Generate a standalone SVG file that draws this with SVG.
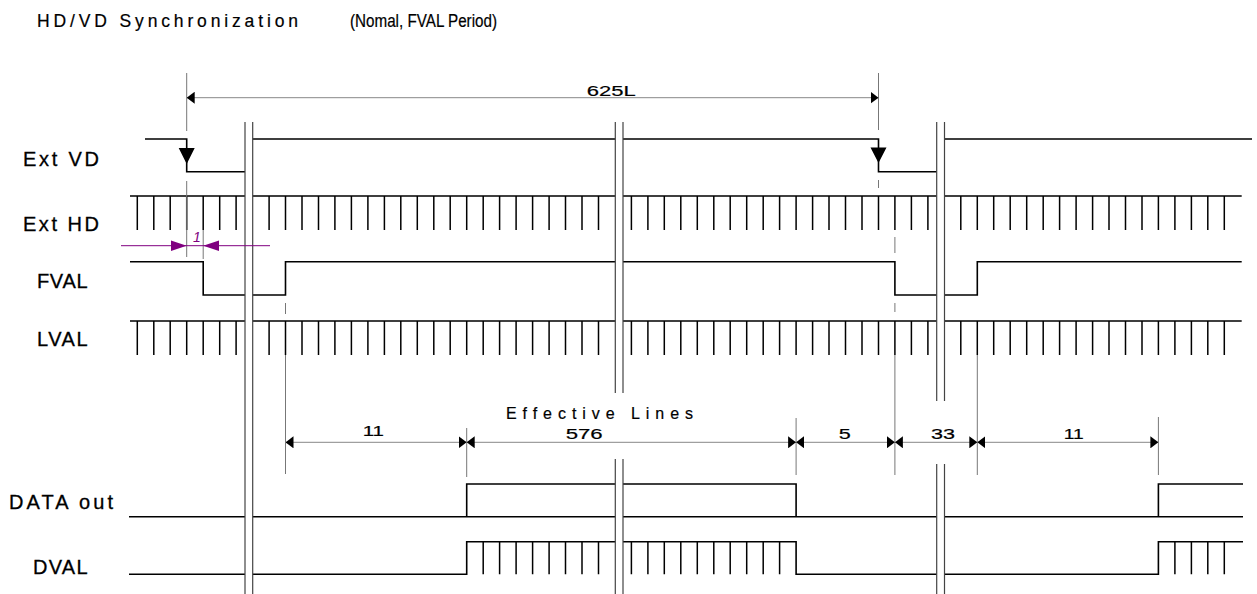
<svg xmlns="http://www.w3.org/2000/svg" width="1257" height="594" viewBox="0 0 1257 594">
<style>
.sig{fill:none;stroke:#000;stroke-width:1.6}
.tk{fill:none;stroke:#000;stroke-width:1.5}
.brk{fill:none;stroke:#444;stroke-width:1.2}
.dim{fill:none;stroke:#888;stroke-width:1}
.wit{fill:none;stroke:#777;stroke-width:1}
.pur{fill:none;stroke:#800080;stroke-width:1}
.lbl{font-family:"Liberation Sans",Arial,sans-serif;font-size:20px;fill:#000;stroke:#000;stroke-width:0.3}
.ttl{font-family:"Liberation Sans",Arial,sans-serif;font-size:17.5px;fill:#000;stroke:#000;stroke-width:0.2}
.dtx{font-family:"Liberation Sans",Arial,sans-serif;font-size:15px;fill:#000;stroke:#000;stroke-width:0.2}
</style>
<defs>
<marker id="ar" viewBox="0 0 8 12" refX="8" refY="6" markerWidth="8" markerHeight="12" markerUnits="userSpaceOnUse" orient="auto-start-reverse">
<path d="M0,0 L8,6 L0,12 z" fill="#000"/>
</marker>
</defs>
<rect width="1257" height="594" fill="#fff"/>

<g id="title">
<text class="ttl" x="37" y="27" textLength="261" lengthAdjust="spacing">HD/VD Synchronization</text>
<text class="ttl" x="350" y="27" textLength="147" lengthAdjust="spacingAndGlyphs">(Nomal, FVAL Period)</text>
</g>

<g id="extvd">
<text class="lbl" x="23" y="166" textLength="76" lengthAdjust="spacing">Ext VD</text>
<path class="sig" d="M145,139 H186.7 V171.7 H245 M252.7,139 H615.3 M623,139 H878.5 V171.7 H936.7 M944.5,139 H1252"/>
<path d="M178.7,148 L194.7,148 L186.7,164 z M870.5,147.5 L886.5,147.5 L878.5,163 z" fill="#000"/>
</g>

<g id="exthd">
<text class="lbl" x="23" y="231" textLength="76" lengthAdjust="spacing">Ext HD</text>
<path class="sig" d="M130,196 H245 M252.7,196 H615.3 M623,196 H936.7 M944.5,196 H1241.7"/>
<path class="tk" d="M137.3,196V230 M153.8,196V230 M170.2,196V230 M186.7,196V230 M203.2,196V230 M219.7,196V230 M236.1,196V230 M269.1,196V230 M285.5,196V230 M302,196V230 M318.5,196V230 M334.9,196V230 M351.4,196V230 M367.9,196V230 M384.4,196V230 M400.8,196V230 M417.3,196V230 M433.8,196V230 M450.2,196V230 M466.7,196V230 M483.2,196V230 M499.6,196V230 M516.1,196V230 M532.6,196V230 M549.1,196V230 M565.5,196V230 M582,196V230 M598.5,196V230 M631.4,196V230 M647.9,196V230 M664.3,196V230 M680.8,196V230 M697.3,196V230 M713.8,196V230 M730.2,196V230 M746.7,196V230 M763.2,196V230 M779.6,196V230 M796.1,196V230 M812.6,196V230 M829,196V230 M845.5,196V230 M862,196V230 M878.5,196V230 M894.9,196V230 M911.4,196V230 M927.9,196V230 M960.8,196V230 M977.3,196V230 M993.7,196V230 M1010.2,196V230 M1026.7,196V230 M1043.2,196V230 M1059.6,196V230 M1076.1,196V230 M1092.6,196V230 M1109,196V230 M1125.5,196V230 M1142,196V230 M1158.4,196V230 M1174.9,196V230 M1191.4,196V230 M1207.8,196V230 M1224.3,196V230"/>
</g>

<g id="fval">
<text class="lbl" x="37" y="288" textLength="50.5" lengthAdjust="spacing">FVAL</text>
<path class="sig" d="M130,261.7 H203.2 V295 H245 M252.7,295 H285.5 V261.7 H615.3 M623,261.7 H894.9 V295 H936.7 M944.5,295 H977.3 V261.7 H1241.7"/>
</g>

<g id="lval">
<text class="lbl" x="37" y="346" textLength="50.5" lengthAdjust="spacing">LVAL</text>
<path class="sig" d="M130,321 H245 M252.7,321 H615.3 M623,321 H936.7 M944.5,321 H1241.7"/>
<path class="tk" d="M137.3,321V355 M153.8,321V355 M170.2,321V355 M186.7,321V355 M203.2,321V355 M219.7,321V355 M236.1,321V355 M269.1,321V355 M285.5,321V355 M302,321V355 M318.5,321V355 M334.9,321V355 M351.4,321V355 M367.9,321V355 M384.4,321V355 M400.8,321V355 M417.3,321V355 M433.8,321V355 M450.2,321V355 M466.7,321V355 M483.2,321V355 M499.6,321V355 M516.1,321V355 M532.6,321V355 M549.1,321V355 M565.5,321V355 M582,321V355 M598.5,321V355 M631.4,321V355 M647.9,321V355 M664.3,321V355 M680.8,321V355 M697.3,321V355 M713.8,321V355 M730.2,321V355 M746.7,321V355 M763.2,321V355 M779.6,321V355 M796.1,321V355 M812.6,321V355 M829,321V355 M845.5,321V355 M862,321V355 M878.5,321V355 M894.9,321V355 M911.4,321V355 M927.9,321V355 M960.8,321V355 M977.3,321V355 M993.7,321V355 M1010.2,321V355 M1026.7,321V355 M1043.2,321V355 M1059.6,321V355 M1076.1,321V355 M1092.6,321V355 M1109,321V355 M1125.5,321V355 M1142,321V355 M1158.4,321V355 M1174.9,321V355 M1191.4,321V355 M1207.8,321V355 M1224.3,321V355"/>
</g>

<g id="dataout">
<text class="lbl" x="9" y="509" textLength="104" lengthAdjust="spacing">DATA out</text>
<path class="sig" d="M129,516.7 H245 M252.7,516.7 H615.3 M623,516.7 H936.7 M944.5,516.7 H1243 M466.7,516.7 V484 H615.3 M623,484 H796.1 V516.7 M1158.4,516.7 V484 H1243"/>
</g>

<g id="dval">
<text class="lbl" x="33" y="574" textLength="54.5" lengthAdjust="spacing">DVAL</text>
<path class="sig" d="M129,574.3 H245 M252.7,574.3 H466.7 V541.7 H615.3 M623,541.7 H796.1 V574.3 H936.7 M944.5,574.3 H1158.4 V541.7 H1243"/>
<path class="tk" d="M483.2,541.7V574.3 M499.6,541.7V574.3 M516.1,541.7V574.3 M532.6,541.7V574.3 M549.1,541.7V574.3 M565.5,541.7V574.3 M582,541.7V574.3 M598.5,541.7V574.3 M631.4,541.7V574.3 M647.9,541.7V574.3 M664.3,541.7V574.3 M680.8,541.7V574.3 M697.3,541.7V574.3 M713.8,541.7V574.3 M730.2,541.7V574.3 M746.7,541.7V574.3 M763.2,541.7V574.3 M779.6,541.7V574.3 M1174.9,541.7V574.3 M1191.4,541.7V574.3 M1207.8,541.7V574.3 M1224.3,541.7V574.3"/>
</g>

<g id="breaks">
<path class="brk" d="M245,122 V594 M252.7,122 V594 M615.3,122 V393 M623,122 V393 M615.3,459 V594 M623,459 V594 M936.7,122 V401 M944.5,122 V401 M936.7,464 V594 M944.5,464 V594"/>
</g>

<g id="connectors">
<path class="wit" d="M186.7,73 V131 M186.7,181 V257 M878.5,73 V130 M878.5,180 V188 M203.2,230 V259 M285.5,303 V314 M285.5,355 V474 M466.7,428 V477 M796.1,418 V475 M894.9,237 V253 M894.9,303 V312 M894.9,355 V475 M977.3,355 V475 M1158.4,417 V475"/>
<line class="dim" x1="186.7" y1="97.7" x2="878.5" y2="97.7" marker-start="url(#ar)" marker-end="url(#ar)"/>
<line class="dim" x1="285.5" y1="442.3" x2="466.7" y2="442.3" marker-start="url(#ar)" marker-end="url(#ar)"/>
<line class="dim" x1="466.7" y1="442.3" x2="796.1" y2="442.3" marker-start="url(#ar)" marker-end="url(#ar)"/>
<line class="dim" x1="796.1" y1="442.3" x2="894.9" y2="442.3" marker-start="url(#ar)" marker-end="url(#ar)"/>
<line class="dim" x1="894.9" y1="442.3" x2="977.3" y2="442.3" marker-start="url(#ar)" marker-end="url(#ar)"/>
<line class="dim" x1="977.3" y1="442.3" x2="1158.4" y2="442.3" marker-start="url(#ar)" marker-end="url(#ar)"/>
<line class="pur" x1="121" y1="245.7" x2="270" y2="245.7"/>
<path d="M171,240.4 L186.7,245.7 L171,251 z M219,240.4 L203.2,245.7 L219,251 z" fill="#800080"/>
<text x="193" y="242" style="font-family:'Liberation Sans',Arial,sans-serif;font-size:14px;font-style:italic;fill:#800080">1</text>
<text class="dtx" x="586.7" y="95.7" textLength="49" lengthAdjust="spacingAndGlyphs">625L</text>
<text class="dtx" x="362.7" y="436" textLength="21.3" lengthAdjust="spacingAndGlyphs">11</text>
<text class="dtx" x="506" y="419.3" textLength="187" lengthAdjust="spacing" style="font-size:16px">Effective Lines</text>
<text class="dtx" x="565.7" y="439" textLength="37" lengthAdjust="spacingAndGlyphs">576</text>
<text class="dtx" x="838.7" y="439" textLength="12" lengthAdjust="spacingAndGlyphs">5</text>
<text class="dtx" x="931" y="439" textLength="24" lengthAdjust="spacingAndGlyphs">33</text>
<text class="dtx" x="1063.8" y="439" textLength="20" lengthAdjust="spacingAndGlyphs">11</text>
</g>
</svg>
